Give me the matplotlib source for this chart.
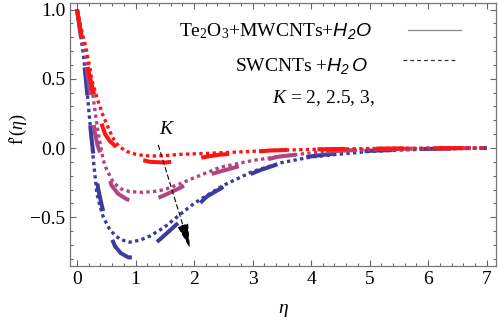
import matplotlib
matplotlib.use('Agg')
import matplotlib.pyplot as plt
from matplotlib.ticker import MultipleLocator

# Fonts: Times-like serif, italic sans for H2O
plt.rcParams['font.family'] = ['Liberation Serif', 'DejaVu Serif']
plt.rcParams['mathtext.fontset'] = 'custom'
plt.rcParams['mathtext.rm'] = 'Liberation Serif'
plt.rcParams['mathtext.it'] = 'Liberation Serif:italic'
plt.rcParams['mathtext.sf'] = 'Liberation Sans:italic'

# Te2O3+MWCNTs+H2O (drawn long-dashed), K = 2, 2.5, 3
eta_mw_k2 = [0, 0.05, 0.1, 0.15, 0.2, 0.26, 0.33, 0.4, 0.48, 0.56, 0.65, 0.76, 0.9,
             1.05, 1.25, 1.5, 1.73, 2.0, 2.4, 2.8, 3.3, 3.8, 4.5, 5.2, 6.0, 7.0]
fp_mw_k2 = [1.0, 0.87, 0.76, 0.65, 0.55, 0.44, 0.32, 0.2, 0.1, 0.05, 0.015, -0.014, -0.05,
            -0.08, -0.1, -0.105, -0.094, -0.078, -0.05, -0.035, -0.018, -0.012, -0.007, -0.004, -0.002, 0.0]

eta_mw_k25 = [0, 0.05, 0.1, 0.15, 0.2, 0.25, 0.3, 0.35, 0.42, 0.5, 0.59, 0.7, 0.85, 1.0,
              1.15, 1.3, 1.5, 1.75, 1.93, 2.2, 2.44, 2.87, 3.44, 3.9, 4.5, 5.0, 6.0, 7.0]
fp_mw_k25 = [1.0, 0.87, 0.74, 0.62, 0.48, 0.3, 0.12, 0.02, -0.063, -0.15, -0.27, -0.33, -0.37, -0.39,
             -0.39, -0.375, -0.34, -0.29, -0.25, -0.2, -0.17, -0.12, -0.063, -0.04, -0.02, -0.01, -0.003, 0.0]

eta_mw_k3 = [0, 0.05, 0.1, 0.15, 0.2, 0.25, 0.3, 0.36, 0.42, 0.48, 0.56, 0.65, 0.75, 0.88,
             1.0, 1.2, 1.47, 1.81, 2.0, 2.22, 2.67, 3.13, 3.64, 4.0, 4.5, 5.0, 6.0, 7.0]
fp_mw_k3 = [1.0, 0.85, 0.69, 0.5, 0.27, 0.06, -0.12, -0.29, -0.41, -0.51, -0.62, -0.71, -0.76, -0.79,
            -0.79, -0.74, -0.64, -0.51, -0.44, -0.35, -0.24, -0.16, -0.087, -0.06, -0.035, -0.02, -0.006, 0.0]

# SWCNTs+H2O (drawn dotted), K = 2, 2.5, 3
eta_sw_k2 = [0, 0.05, 0.1, 0.15, 0.2, 0.26, 0.35, 0.43, 0.55, 0.63, 0.72, 0.85, 1.0, 1.15,
             1.3, 1.5, 1.76, 2.27, 2.8, 3.3, 4.0, 5.0, 6.0, 7.0]
fp_sw_k2 = [1.0, 0.9, 0.81, 0.73, 0.62, 0.48, 0.35, 0.25, 0.13, 0.06, 0.01, -0.025, -0.045, -0.055,
            -0.058, -0.055, -0.046, -0.038, -0.028, -0.018, -0.01, -0.004, -0.001, 0.0]

eta_sw_k25 = [0, 0.05, 0.1, 0.15, 0.2, 0.25, 0.3, 0.35, 0.4, 0.45, 0.5, 0.62, 0.75, 0.9,
              1.1, 1.3, 1.5, 1.75, 2.0, 2.44, 3.0, 3.44, 4.0, 4.5, 5.0, 6.0, 7.0]
fp_sw_k25 = [1.0, 0.88, 0.77, 0.66, 0.56, 0.45, 0.29, 0.14, 0.02, -0.09, -0.15, -0.25, -0.295, -0.315,
             -0.32, -0.315, -0.3, -0.26, -0.215, -0.14, -0.09, -0.063, -0.035, -0.02, -0.012, -0.003, 0.0]

eta_sw_k3 = [0, 0.05, 0.1, 0.15, 0.2, 0.25, 0.28, 0.34, 0.4, 0.45, 0.56, 0.65, 0.74, 0.9,
             1.08, 1.25, 1.5, 1.76, 2.0, 2.5, 3.0, 3.5, 4.0, 4.6, 5.0, 5.5, 6.0, 7.0]
fp_sw_k3 = [1.0, 0.85, 0.7, 0.52, 0.28, 0.05, -0.09, -0.33, -0.43, -0.5, -0.59, -0.63, -0.66, -0.68,
            -0.665, -0.635, -0.57, -0.48, -0.4, -0.27, -0.17, -0.105, -0.065, -0.04, -0.025, -0.015, -0.008, 0.0]

colors = {'k3': '#3c3ca0', 'k25': '#b04580', 'k2': '#ff1414'}

fig = plt.figure(figsize=(4.98, 3.2), dpi=100)
ax = fig.add_axes([70/498, 1-266/320, 426/498, 263/320])

dash_style = (0, (7, 7.5))
dot_style = (0, (1, 1))
curves = [
    (eta_mw_k3, fp_mw_k3, eta_sw_k3, fp_sw_k3, colors['k3']),
    (eta_mw_k25, fp_mw_k25, eta_sw_k25, fp_sw_k25, colors['k25']),
    (eta_mw_k2, fp_mw_k2, eta_sw_k2, fp_sw_k2, colors['k2']),
]
for em, fm, es, fs, c in curves:
    ax.plot(em, fm, color=c, lw=2.9, linestyle=dash_style, dash_capstyle='butt')
    ax.plot(es, fs, color=c, lw=2.4, linestyle=dot_style, dash_capstyle='butt')

# arrow showing increasing K
arrow_start = (1.39, 0.02)
arrow_end = (1.93, -0.725)
ax.annotate('', xy=arrow_end, xytext=arrow_start,
            arrowprops=dict(arrowstyle='-|>,head_length=1.1,head_width=0.25', color='black',
                            lw=0.8, linestyle=(0, (4, 3)), mutation_scale=14,
                            shrinkA=0, shrinkB=0))
ax.text(1.53, 0.13, '$K$', fontsize=14, ha='center', va='center')

# legend-like annotations
ax.text(0.709, 0.876, 'Te$_2$O$_3$+MWCNTs+$\\mathsf{H_2O}$', transform=ax.transAxes,
        ha='right', va='baseline', fontsize=14)
ax.text(0.700, 0.743, 'SWCNTs +$\\mathsf{H_2\\,O}$', transform=ax.transAxes,
        ha='right', va='baseline', fontsize=14)
ax.text(0.716, 0.619, '$K$ = 2, 2.5, 3,', transform=ax.transAxes,
        ha='right', va='baseline', fontsize=14)
ax.plot([0.793, 0.918], [0.898, 0.898], transform=ax.transAxes, color='#888888', lw=0.9)
ax.plot([0.782, 0.908], [0.783, 0.783], transform=ax.transAxes, color='#333333', lw=0.9,
        linestyle=(0, (3, 2.5)))

ax.set_xlim(-0.12, 7.16)
ax.set_ylim(-0.852, 1.047)
ax.xaxis.set_major_locator(MultipleLocator(1))
ax.xaxis.set_minor_locator(MultipleLocator(0.2))
ax.yaxis.set_major_locator(MultipleLocator(0.5))
ax.yaxis.set_minor_locator(MultipleLocator(0.1))
ax.tick_params(which='both', direction='in', top=True, right=True, color='#666666',
               labelsize=14, width=0.8)
ax.tick_params(which='major', length=4, pad=3.5)
ax.tick_params(which='minor', length=2.2)
for s in ax.spines.values():
    s.set_color('#777777')
    s.set_linewidth(0.9)

ax.set_xlabel('$\\eta$', fontsize=14)
ax.set_ylabel("f'($\\eta$)", fontsize=13)
ax.xaxis.set_label_coords(0.5, -0.135)
ax.yaxis.set_label_coords(-0.097, 0.52)

fig.savefig('out.png', dpi=100)
